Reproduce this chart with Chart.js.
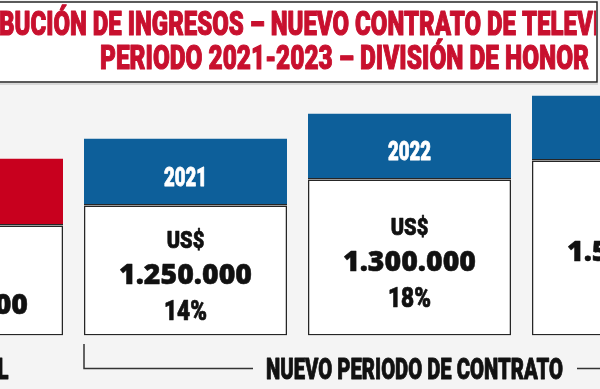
<!DOCTYPE html>
<html><head><meta charset="utf-8">
<script src="https://cdn.jsdelivr.net/npm/chart.js@4.4.1/dist/chart.umd.min.js"></script>
<style>
html,body{margin:0;padding:0;width:600px;height:389px;overflow:hidden;background:#f4f4f4;}
#wrap{position:absolute;left:-160px;top:0;width:920px;height:389px;}
canvas{display:block;}
</style></head><body>
<div id="wrap"><canvas id="c" width="920" height="389"></canvas></div>
<script>
// ---- data ----
const categories = ['2020', '2021', '2022', '2023'];
const amounts = ['1.100.000', '1.250.000', '1.300.000', '1.500.000'];
const shares = ['', '14%', '18%', '36%'];
const currency = 'US$';
const totalLevels = [177, 197, 222, 240];
const headerLevels = [67, 67, 66, 65];
const periodLabels = ['ACTUAL', 'NUEVO PERIODO DE CONTRATO'];
const titleLines = ['DISTRIBUCIÓN DE INGRESOS – NUEVO CONTRATO DE TELEVISIÓN', 'PERIODO 2021-2023 – DIVISIÓN DE HONOR'];
const bodyLevels = totalLevels.map((t, i) => t - headerLevels[i]);

// ---- style ----
const OFF = 160;
const RED = '#c8001e', BLUE = '#0d5f9a', DARK = '#262626', TITLE_RED = '#c8102e';
const COND = '"Roboto", "Liberation Sans", sans-serif';
const WIDE = '"Open Sans", "DejaVu Sans", sans-serif';
const headerColors = categories.map((c, i) => i === 0 ? RED : BLUE);

function measure(ctx, text, font) { ctx.save(); ctx.font = font; const w = ctx.measureText(text).width; ctx.restore(); return w; }
function drawText(ctx, text, x, y, font, color, sx, align, stroke) {
  ctx.save();
  ctx.font = font; ctx.fillStyle = color; ctx.textBaseline = 'alphabetic'; ctx.textAlign = 'left';
  const w = ctx.measureText(text).width * sx;
  const left = align === 'center' ? x - w / 2 : (align === 'right' ? x - w : x);
  ctx.translate(left, y); ctx.scale(sx, 1);
  if (stroke) { ctx.strokeStyle = color; ctx.lineWidth = stroke / sx; ctx.lineJoin = 'round'; ctx.strokeText(text, 0, 0); }
  ctx.fillText(text, 0, 0);
  ctx.restore();
  return [left, left + w];
}

const decor = {
  id: 'decor',
  beforeDraw(chart) {
    const ctx = chart.ctx;
    ctx.save();
    ctx.fillStyle = '#f4f4f4';
    ctx.fillRect(0, 0, chart.width, chart.height);
    // title box
    ctx.fillStyle = '#ffffff';
    ctx.fillRect(0, 2, OFF + 597, 80);
    ctx.strokeStyle = '#d8d8d8'; ctx.lineWidth = 2;
    ctx.beginPath(); ctx.moveTo(0, 84); ctx.lineTo(OFF + 598, 84); ctx.stroke();
    ctx.strokeStyle = DARK; ctx.lineWidth = 1.5;
    ctx.beginPath();
    ctx.moveTo(0, 2); ctx.lineTo(OFF + 597, 2); ctx.lineTo(OFF + 597, 82); ctx.lineTo(0, 82);
    ctx.stroke();
    ctx.beginPath(); ctx.rect(0, 3, OFF + 596, 78); ctx.clip();
    const tFont = '900 33px ' + COND;
    const s2 = 489 / measure(ctx, titleLines[1], tFont);
    const s1 = 601 / measure(ctx, 'BUCIÓN DE INGRESOS – NUEVO CONTRATO DE TELEVI', tFont);
    const pre = measure(ctx, 'DISTRI', tFont) * s1;
    drawText(ctx, titleLines[0], OFF - 1 - pre, 35, tFont, TITLE_RED, s1, 'left', 0.8);
    drawText(ctx, titleLines[1], OFF + 100, 69, tFont, TITLE_RED, s2, 'left', 0.8);
    ctx.restore();
  },
  afterDatasetsDraw(chart) {
    const ctx = chart.ctx;
    const m0 = chart.getDatasetMeta(0), m1 = chart.getDatasetMeta(1);
    const yFont = '900 25px ' + COND;
    const ys = 43 / measure(ctx, '2021', yFont);
    const sFont = '900 27px ' + COND;
    const ss = 43 / measure(ctx, '14%', sFont);
    const uFont = '900 24px ' + COND;
    const vFont = '800 29px ' + WIDE;
    const vs = 133 / measure(ctx, '1.250.000', vFont);
    categories.forEach((cat, i) => {
      const b = m0.data[i], h = m1.data[i];
      const x = b.x;
      drawText(ctx, cat, x, h.base - 19.5, yFont, '#ffffff', ys, 'center', 0.6);
      const c = (b.y + b.base) / 2 + 6;
      if (shares[i]) {
        drawText(ctx, currency, x, c - 29, uFont, '#111', ss, 'center', 0.6);
        drawText(ctx, amounts[i], x, c + 7, vFont, '#111', vs, 'center', 0.5);
        drawText(ctx, shares[i], x, c + 43, sFont, '#111', ss, 'center', 0.6);
      } else {
        drawText(ctx, currency, x, c - 8.5, uFont, '#111', ss, 'center', 0.6);
        drawText(ctx, amounts[i], x, c + 27.5, vFont, '#111', vs, 'center', 0.5);
      }
    });
    // period labels and brackets
    const lFont = '900 29px ' + COND;
    const ls = 297 / measure(ctx, periodLabels[1], lFont);
    const b1 = m0.data[1], b3 = m0.data[3];
    const bl = b1.x - b1.width / 2, br = b3.x + b3.width / 2;
    const mid = (b1.x + b3.x) / 2 + 5;
    const [tl, tr] = drawText(ctx, periodLabels[1], mid, 379, lFont, '#111', ls, 'center', 0.6);
    drawText(ctx, periodLabels[0], OFF + 8.5, 379, lFont, '#111', ls, 'right', 0.6);
    ctx.save();
    ctx.strokeStyle = '#333'; ctx.lineWidth = 1.5;
    ctx.beginPath();
    ctx.moveTo(bl, 344); ctx.lineTo(bl, 368.5); ctx.lineTo(tl - 13, 368.5);
    ctx.moveTo(tr + 14, 368.5); ctx.lineTo(br, 368.5); ctx.lineTo(br, 344);
    ctx.stroke();
    ctx.restore();
  }
};

new Chart(document.getElementById('c'), {
  type: 'bar',
  data: {
    labels: categories,
    datasets: [
      { data: bodyLevels, backgroundColor: '#ffffff', borderColor: DARK, borderWidth: 1.5, borderSkipped: false,
        barPercentage: 203 / 224, categoryPercentage: 1 },
      { data: headerLevels, backgroundColor: headerColors, borderColor: DARK,
        borderWidth: { top: 0, left: 0, right: 0, bottom: 1.5 }, borderSkipped: false,
        barPercentage: 203 / 224, categoryPercentage: 1 }
    ]
  },
  options: {
    responsive: false, animation: false, devicePixelRatio: 1,
    layout: { padding: { left: 9.5, right: 14.5, top: 90, bottom: 53.5 } },
    plugins: { legend: { display: false }, tooltip: { enabled: false }, title: { display: false } },
    scales: {
      x: { display: false, stacked: true, offset: true },
      y: { display: false, stacked: true, min: 0, max: 245.5 }
    }
  },
  plugins: [decor]
});
</script>
</body></html>
